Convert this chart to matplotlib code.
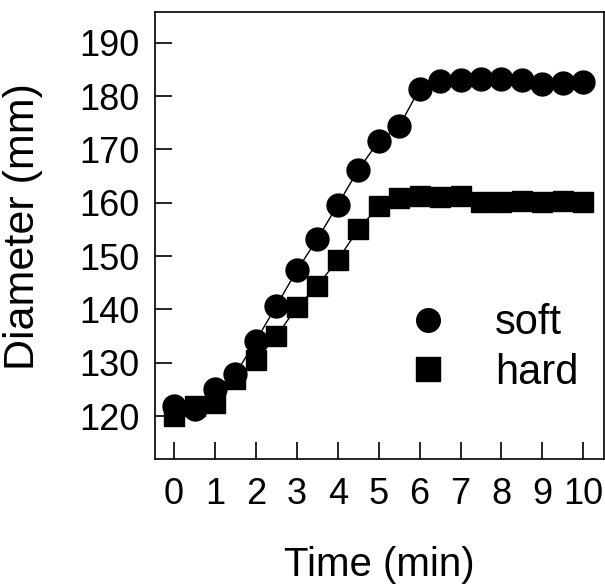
import matplotlib
matplotlib.use("Agg")
import matplotlib.pyplot as plt

plt.rcParams['font.family'] = ['Liberation Sans', 'DejaVu Sans']

time_min = [0, 0.5, 1, 1.5, 2, 2.5, 3, 3.5, 4, 4.5, 5, 5.5,
            6, 6.5, 7, 7.5, 8, 8.5, 9, 9.5, 10]
soft = [121.9, 121.3, 125.0, 127.9, 134.1, 140.7, 147.3, 153.2, 159.6, 166.2, 171.5,
        174.3, 181.4, 182.8, 183.0, 183.2, 183.1, 183.0, 182.2, 182.5, 182.6]
hard = [120.0, 121.9, 122.5, 126.9, 130.5, 135.0, 140.4, 144.4, 149.3, 155.0, 159.3,
        160.9, 161.2, 161.0, 161.3, 160.1, 160.2, 160.4, 160.1, 160.4, 160.1]
x_ticks = list(range(0, 11))
y_ticks = [120, 130, 140, 150, 160, 170, 180, 190]


def main():
    fig = plt.figure(figsize=(6.05, 5.88), dpi=100)
    ax = fig.add_axes([0.256, 0.219, 0.742, 0.761])

    ax.plot(time_min, soft, color='black', lw=1.0, marker='o', ms=16.5,
            mec='black', mfc='black', label='soft')
    ax.plot(time_min, hard, color='black', lw=1.0, marker='s', ms=14,
            mec='black', mfc='black', label='hard')

    ax.set_xlim(-0.47, 10.5)
    ax.set_ylim(111.9, 195.8)
    ax.set_xticks(x_ticks)
    ax.set_yticks(y_ticks)
    ax.tick_params(direction='in', length=12, width=1.2, labelsize=26, pad=11)
    ax.tick_params(axis='x', pad=13)
    for s in ax.spines.values():
        s.set_linewidth(1.2)

    ax.set_xlabel('Time (min)', fontsize=29, labelpad=24)
    ax.set_ylabel('Diameter (mm)', fontsize=31)
    ax.yaxis.set_label_coords(-0.25, 0.52)

    leg = ax.legend(loc='lower right', bbox_to_anchor=(1.027, 0.065), frameon=False,
                    fontsize=30, handlelength=1.2, handletextpad=1.0,
                    labelspacing=0.22)
    for h in leg.legend_handles:
        h.set_linestyle('None')
        h.set_markersize(17)

    fig.savefig('out.png', dpi=100)


if __name__ == "__main__":
    main()
